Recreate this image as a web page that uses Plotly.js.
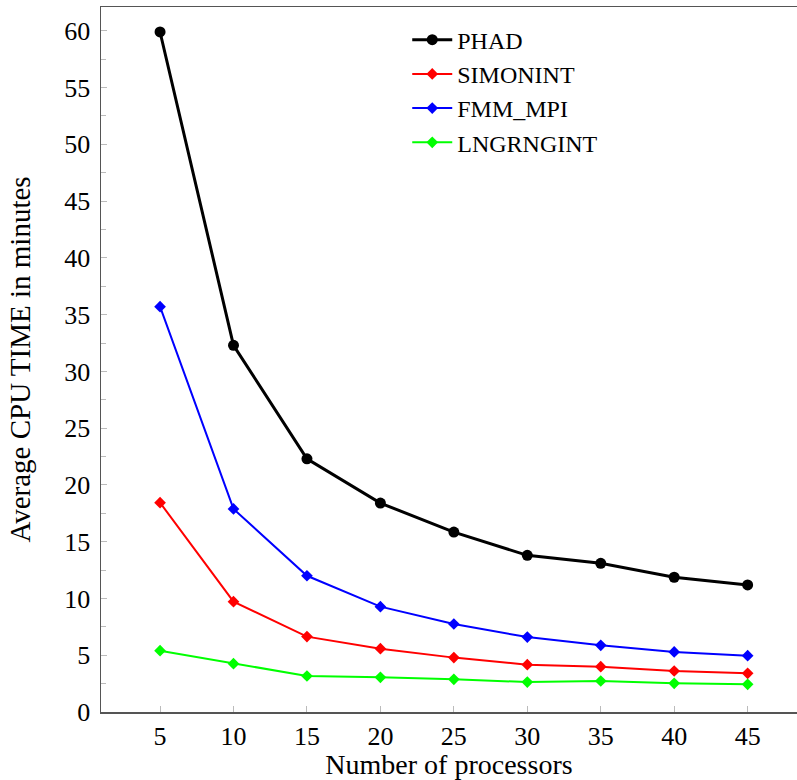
<!DOCTYPE html>
<html>
<head>
<meta charset="utf-8">
<script src="https://cdn.plot.ly/plotly-3.0.1.min.js"></script>
<style>html,body{margin:0;padding:0;background:#fff;}#chart{width:797px;height:780px;}</style>
</head>
<body>
<div id="chart"></div>
<script>
const processors = [5, 10, 15, 20, 25, 30, 35, 40, 45];
const phad = [59.9, 32.3, 22.3, 18.4, 15.85, 13.8, 13.1, 11.87, 11.19];
const simonint = [18.44, 9.72, 6.64, 5.58, 4.79, 4.17, 3.99, 3.61, 3.41];
const fmmMpi = [35.7, 17.89, 12.0, 9.28, 7.75, 6.6, 5.87, 5.29, 4.96];
const lngrngint = [5.40, 4.26, 3.17, 3.05, 2.88, 2.64, 2.73, 2.53, 2.44];
const xTicks = [5, 10, 15, 20, 25, 30, 35, 40, 45];
const yTicks = [0, 5, 10, 15, 20, 25, 30, 35, 40, 45, 50, 55, 60];

const FONT = "Liberation Serif, Times New Roman, serif";

const traces = [
  {name: "PHAD", x: processors, y: phad, mode: "lines+markers",
   line: {color: "#000000", width: 3}, marker: {symbol: "circle", size: 11, color: "#000000"}},
  {name: "SIMONINT", x: processors, y: simonint, mode: "lines+markers",
   line: {color: "#ff0000", width: 2}, marker: {symbol: "diamond", size: 9, color: "#ff0000"}},
  {name: "FMM_MPI", x: processors, y: fmmMpi, mode: "lines+markers",
   line: {color: "#0000ff", width: 2}, marker: {symbol: "diamond", size: 9, color: "#0000ff"}},
  {name: "LNGRNGINT", x: processors, y: lngrngint, mode: "lines+markers",
   line: {color: "#00ff00", width: 2}, marker: {symbol: "diamond", size: 9, color: "#00ff00"}}
];

const layout = {
  width: 797, height: 780,
  margin: {l: 101, r: 0, t: 7, b: 68},
  paper_bgcolor: "#ffffff", plot_bgcolor: "#ffffff",
  font: {family: FONT, size: 26, color: "#000"},
  showlegend: true,
  legend: {x: 0.44, y: 0.985, xanchor: "left", yanchor: "top",
           bgcolor: "rgba(0,0,0,0)", font: {family: FONT, size: 24},
           tracegroupgap: 0, itemwidth: 40},
  xaxis: {
    range: [0.98, 48.36], tickvals: xTicks, ticktext: xTicks.map(String),
    showgrid: false, zeroline: false, showline: true, linecolor: "#555", linewidth: 1.5,
    mirror: true, ticks: "inside", ticklen: 6, tickcolor: "#bbb", tickwidth: 1,
    tickfont: {family: FONT, size: 26},
    title: {text: "Number of processors", font: {family: FONT, size: 28}, standoff: 4}
  },
  yaxis: {
    range: [0, 62.1], tickvals: yTicks, ticktext: yTicks.map(String),
    showgrid: false, zeroline: false, showline: true, linecolor: "#555", linewidth: 1.5,
    ticks: "inside", ticklen: 6, tickcolor: "#bbb", tickwidth: 1, ticklabelstandoff: 4,
    minor: {dtick: 2.5, ticks: "inside", ticklen: 5, tickcolor: "#bbb", showgrid: false},
    tickfont: {family: FONT, size: 26},
    title: {text: "Average CPU TIME in minutes", font: {family: FONT, size: 29}, standoff: 25}
  }
};

Plotly.newPlot("chart", traces, layout, {displayModeBar: false, staticPlot: true});
</script>
</body>
</html>
